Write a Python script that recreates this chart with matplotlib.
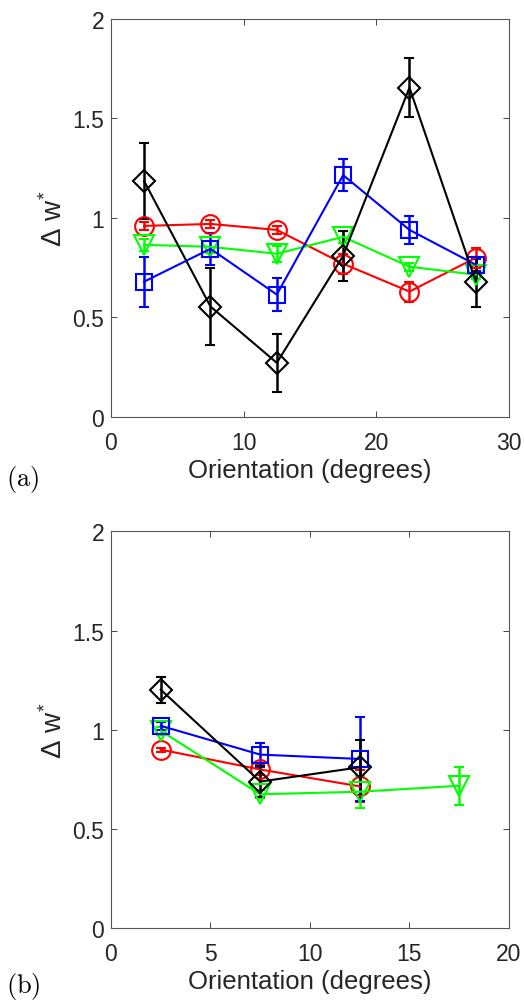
import numpy as np
import matplotlib
matplotlib.use('Agg')
import matplotlib.pyplot as plt

plt.rcParams['font.family'] = ['Liberation Sans', 'DejaVu Sans']
plt.rcParams['mathtext.fontset'] = 'custom'
plt.rcParams['mathtext.rm'] = 'Liberation Sans'
plt.rcParams['mathtext.it'] = 'Liberation Sans'

# Panel (a) data
orient_a = [2.5, 7.5, 12.5, 17.5, 22.5, 27.5]
red_a = [0.96, 0.97, 0.94, 0.77, 0.63, 0.80]
red_a_err = [0.02, 0.02, 0.02, 0.05, 0.05, 0.05]
green_a = [0.865, 0.855, 0.82, 0.905, 0.755, 0.715]
green_a_err = [0.03, 0.03, 0.04, 0.03, 0.02, 0.02]
blue_a = [0.68, 0.845, 0.615, 1.215, 0.94, 0.765]
blue_a_err = [0.125, 0.08, 0.085, 0.08, 0.07, 0.03]
black_a = [1.185, 0.555, 0.272, 0.81, 1.655, 0.68]
black_a_err = [0.19, 0.195, 0.147, 0.125, 0.15, 0.125]

# Panel (b) data
orient_b = [2.5, 7.5, 12.5]
orient_b_green = [2.5, 7.5, 12.5, 17.5]
red_b = [0.90, 0.80, 0.715]
red_b_err = [0.01, 0.03, 0.08]
green_b = [0.995, 0.675, 0.688, 0.718]
green_b_err = [0.02, 0.02, 0.08, 0.095]
blue_b = [1.02, 0.875, 0.853]
blue_b_err = [0.02, 0.06, 0.21]
black_b = [1.202, 0.739, 0.811]
black_b_err = [0.065, 0.08, 0.14]

series_a = [
    (orient_a, red_a, red_a_err, '#ff0000', 'o', 13.5),
    (orient_a, green_a, green_a_err, '#00ff00', 'v', 14),
    (orient_a, blue_a, blue_a_err, '#0000ff', 's', 11),
    (orient_a, black_a, black_a_err, 'k', 'D', 11.5),
]
series_b = [
    (orient_b, red_b, red_b_err, '#ff0000', 'o', 13.5),
    (orient_b_green, green_b, green_b_err, '#00ff00', 'v', 14),
    (orient_b, blue_b, blue_b_err, '#0000ff', 's', 11),
    (orient_b, black_b, black_b_err, 'k', 'D', 11.5),
]

fig = plt.figure(figsize=(5.24, 10.03), dpi=100)
ax_a = fig.add_axes([0.2118, 0.5833, 0.7595, 0.3968])
ax_b = fig.add_axes([0.2118, 0.0735, 0.7595, 0.3958])

axis_col = '#262626'


def draw_panel(ax, series, xmax, xticks):
    for x, y, e, c, m, ms in series:
        ax.errorbar(x, y, yerr=e, color=c, marker=m, markersize=ms,
                    markerfacecolor='none', markeredgecolor=c, markeredgewidth=1.5,
                    linewidth=1.5, elinewidth=1.8, capsize=3.5, capthick=1.8)
    ax.set_xlim(0, xmax)
    ax.set_ylim(0, 2)
    ax.set_xticks(xticks)
    ax.set_yticks([0, 0.5, 1, 1.5, 2])
    ax.set_yticklabels(['0', '0.5', '1', '1.5', '2'])
    ax.tick_params(direction='in', top=True, right=True, labelsize=16.5,
                   colors=axis_col, length=4, width=0.6)
    ax.tick_params(axis='x', pad=10)
    ax.tick_params(axis='y', pad=5)
    for s in ax.spines.values():
        s.set_color('#555555')
        s.set_linewidth(0.8)
    ax.set_xlabel('Orientation (degrees)', fontsize=18.5, color=axis_col, labelpad=3)
    ax.set_ylabel(r'$\Delta\ w^{*}$', fontsize=20, color=axis_col, labelpad=3)


draw_panel(ax_a, series_a, 30, [0, 10, 20, 30])
draw_panel(ax_b, series_b, 20, [0, 5, 10, 15, 20])

fig.text(0.012, 0.522, '$\\mathrm{(a)}$', fontsize=19, math_fontfamily='cm', va='center')
fig.text(0.012, 0.016, '$\\mathrm{(b)}$', fontsize=19, math_fontfamily='cm', va='center')

fig.savefig('out.png', dpi=100)
